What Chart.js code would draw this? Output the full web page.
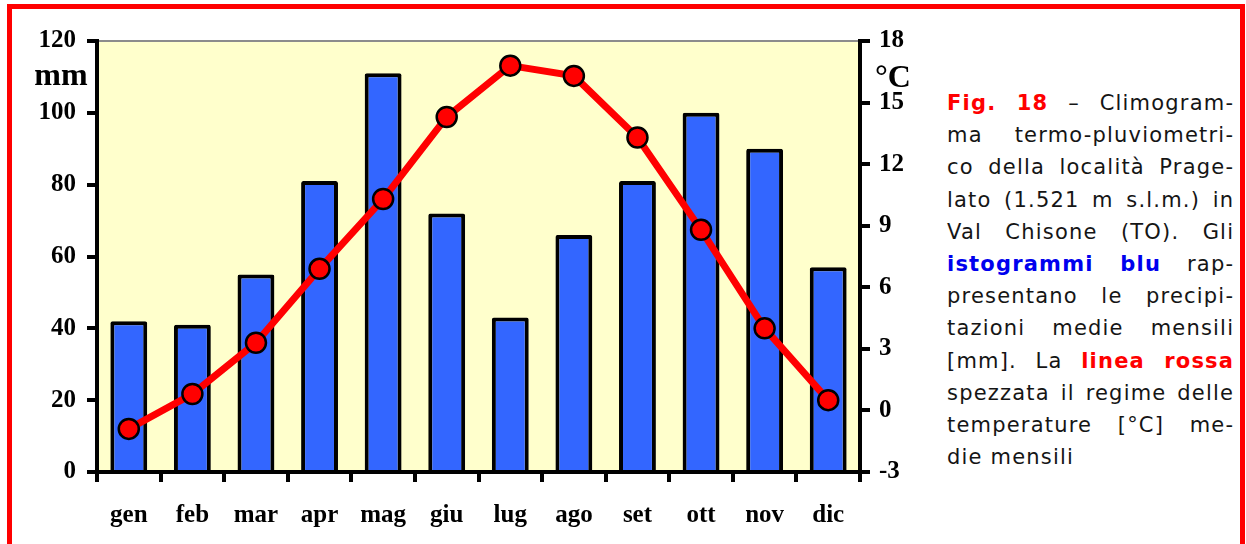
<!DOCTYPE html>
<html>
<head>
<meta charset="utf-8">
<script src="https://cdn.jsdelivr.net/npm/chart.js@4.4.1/dist/chart.umd.min.js"></script>
<style>
    html, body { margin: 0; padding: 0; background: #fff; width: 1246px; height: 544px; overflow: hidden; }
    #frame { position: absolute; left: 7px; top: 4px; width: 1238px; height: 600px; border: 5px solid #ff0000; box-sizing: border-box; }
    #chartBox { position: absolute; left: 0; top: 0; width: 940px; height: 544px; }
    #caption { position: absolute; left: 947px; top: 87px; width: 286px; font-family: "DejaVu Sans", Verdana, sans-serif; font-size: 21px; letter-spacing: 1.2px; line-height: 32.2px; color: #151515; }
    #caption div { text-align: justify; text-align-last: justify; white-space: nowrap; margin-right: -1.2px; }
    #caption div.last { text-align-last: left; }
    .red { color: #ff0000; font-weight: bold; }
    .blue { color: #0000ee; font-weight: bold; }
</style>
</head>
<body>
<div id="frame"></div>
<div id="chartBox"><canvas id="climoChart" width="940" height="544"></canvas></div>
<div id="caption">
    <div><span class="red">Fig. 18</span> – Climogram-</div>
    <div>ma termo-pluviometri-</div>
    <div>co della località Prage-</div>
    <div>lato (1.521 m s.l.m.) in</div>
    <div>Val Chisone (TO). Gli</div>
    <div><span class="blue">istogrammi blu</span> rap-</div>
    <div>presentano le precipi-</div>
    <div>tazioni medie mensili</div>
    <div>[mm]. La <span class="red">linea rossa</span></div>
    <div>spezzata il regime delle</div>
    <div>temperature [°C] me-</div>
    <div class="last">die mensili</div>
</div>
<script>
const months = ['gen', 'feb', 'mar', 'apr', 'mag', 'giu', 'lug', 'ago', 'set', 'ott', 'nov', 'dic'];
const precipitation = [42, 41, 55, 81, 111, 72, 43, 66, 81, 100, 90, 57];
const temperature = [-0.9, 0.8, 3.3, 6.9, 10.3, 14.3, 16.8, 16.3, 13.3, 8.8, 4.0, 0.5];
const mmTicks = [0, 120, 20];
const tempTicks = [-3, 18, 3];

const serifFont = { family: '"Liberation Serif", "Times New Roman", serif', size: 25, weight: 'bold' };

// yellow plot background + grey top edge
const plotBackground = {
    id: 'plotBackground',
    beforeDraw: function(chart) {
        const a = chart.chartArea;
        const ctx = chart.ctx;
        ctx.save();
        ctx.fillStyle = '#ffffcc';
        ctx.fillRect(a.left, a.top, a.right - a.left, a.bottom - a.top);
        ctx.strokeStyle = '#8c8c8c';
        ctx.lineWidth = 2;
        ctx.beginPath();
        ctx.moveTo(a.left, a.top);
        ctx.lineTo(a.right, a.top);
        ctx.stroke();
        ctx.restore();
    }
};

// unit labels next to the axes
const unitLabels = {
    id: 'unitLabels',
    afterDraw: function(chart) {
        const ctx = chart.ctx;
        const a = chart.chartArea;
        const yPos = chart.scales.y.getPixelForValue(110);
        ctx.save();
        ctx.fillStyle = '#000';
        ctx.font = 'bold 32px "Liberation Serif", "Times New Roman", serif';
        ctx.textAlign = 'center';
        ctx.textBaseline = 'middle';
        ctx.fillText('mm', a.left - 36, yPos);
        ctx.fillText('°C', a.right + 33, yPos + 2);
        ctx.restore();
    }
};

const axisGrid = {
    drawOnChartArea: false,
    drawTicks: true,
    tickLength: 10,
    tickWidth: 4,
    tickColor: '#000',
    color: '#000',
    lineWidth: 4
};
const axisBorder = { display: true, color: '#000', width: 4 };

new Chart(document.getElementById('climoChart').getContext('2d'), {
    type: 'bar',
    data: {
        labels: months,
        datasets: [
            {
                type: 'line',
                label: 'Temperatura',
                data: temperature,
                yAxisID: 'y1',
                order: 0,
                borderColor: '#ff0000',
                borderWidth: 7,
                backgroundColor: '#ff0000',
                pointRadius: 10,
                pointBorderWidth: 2.5,
                pointBorderColor: '#000',
                pointBackgroundColor: '#ff0000',
                tension: 0
            },
            {
                type: 'bar',
                label: 'Precipitazioni',
                data: precipitation,
                yAxisID: 'y',
                order: 1,
                backgroundColor: '#3366ff',
                borderColor: '#000',
                borderWidth: 4,
                borderRadius: 2,
                categoryPercentage: 1,
                barPercentage: 0.58
            }
        ]
    },
    options: {
        responsive: false,
        devicePixelRatio: 1,
        animation: false,
        layout: { padding: { top: 41, left: 0, right: 0, bottom: 0 } },
        plugins: { legend: { display: false }, tooltip: { enabled: false } },
        scales: {
            x: {
                grid: axisGrid,
                border: axisBorder,
                ticks: { color: '#000', font: serifFont, padding: 19 },
                afterFit: function(scale) { scale.height = 72; }
            },
            y: {
                position: 'left',
                min: mmTicks[0],
                max: mmTicks[1],
                grid: axisGrid,
                border: axisBorder,
                ticks: { stepSize: mmTicks[2], color: '#000', font: serifFont, padding: 11 },
                afterFit: function(scale) { scale.width = 97; }
            },
            y1: {
                position: 'right',
                min: tempTicks[0],
                max: tempTicks[1],
                grid: axisGrid,
                border: axisBorder,
                ticks: { stepSize: tempTicks[2], color: '#000', font: serifFont, padding: 9 },
                afterFit: function(scale) { scale.width = 80; }
            }
        }
    },
    plugins: [plotBackground, unitLabels]
});
</script>
</body>
</html>
